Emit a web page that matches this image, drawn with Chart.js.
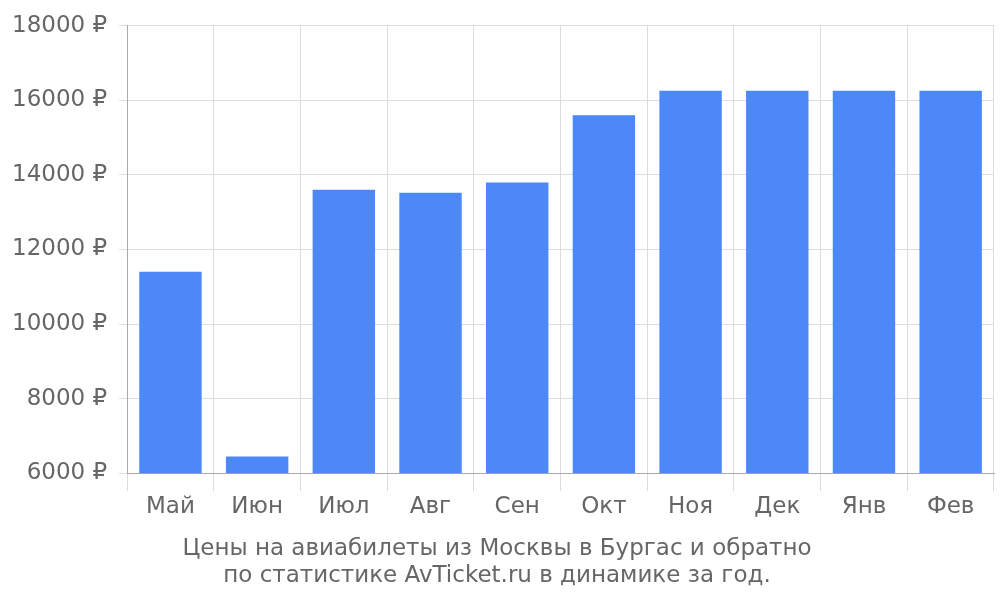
<!DOCTYPE html>
<html><head><meta charset="utf-8">
<script src="https://cdn.jsdelivr.net/npm/chart.js@4"></script>
<style>html,body{margin:0;padding:0;background:#fff}#w{width:1000px;height:600px}</style>
</head><body><div id="w"><canvas id="c"></canvas></div>
<script>
const categories = ['Май','Июн','Июл','Авг','Сен','Окт','Ноя','Дек','Янв','Фев'];
const prices = [11400, 6450, 13600, 13520, 13800, 15600, 16260, 16260, 16260, 16260];
const titleLines = ['Цены на авиабилеты из Москвы в Бургас и обратно','по статистике AvTicket.ru в динамике за год.'];
Chart.defaults.font.family = 'DejaVu Sans';
new Chart(document.getElementById('c'), {
  type: 'bar',
  data: { labels: categories, datasets: [{ data: prices, backgroundColor: '#4d88f9', barPercentage: 0.72, categoryPercentage: 1 }] },
  options: {
    responsive: true, maintainAspectRatio: false, animation: false,
    layout: { padding: { top: 0, right: 6, left: 0, bottom: 10 } },
    plugins: { legend: { display: false }, tooltip: { enabled: false },
      title: { display: true, position: 'bottom', text: titleLines, color: '#666', font: { size: 23, weight: 'normal' }, padding: { top: 12, bottom: 0 }, lineHeight: 1.2 } },
    scales: {
      x: { grid: { offset: true, color: '#ddd', tickLength: 18, drawTicks: true }, border: { color: '#aaa' },
           ticks: { color: '#666', font: { size: 23 }, padding: 2 } },
      y: { min: 6000, max: 18000, grid: { color: '#ddd', tickLength: 8 }, border: { color: '#aaa' },
           ticks: { stepSize: 2000, color: '#666', font: { size: 23 }, padding: 12, callback: v => v + ' ₽' } }
    }
  }
});
</script></body></html>
